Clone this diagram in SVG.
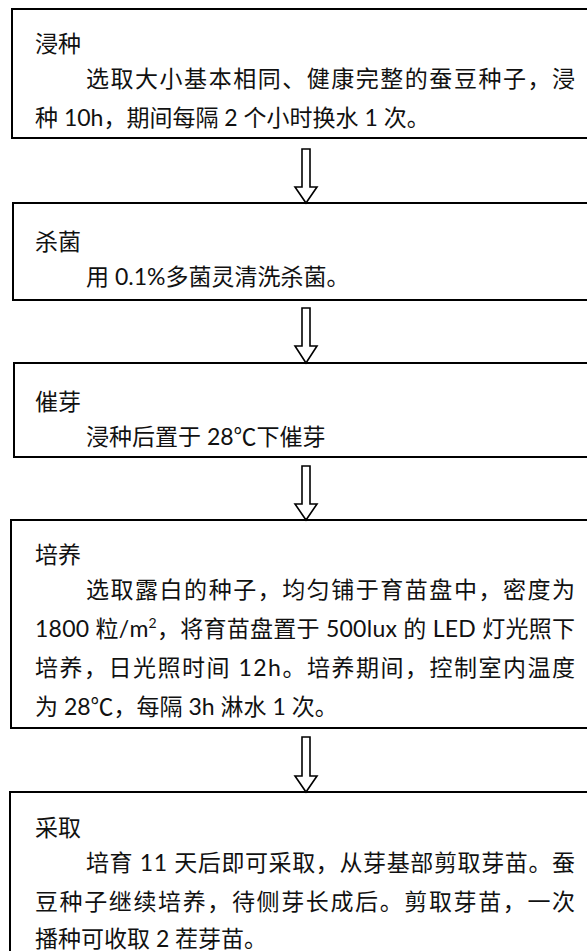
<svg xmlns="http://www.w3.org/2000/svg" width="587" height="951" viewBox="0 0 587 951">
<style>
.box{fill:#fff;stroke:#000;stroke-width:2}
.t{font-family:Lato,"Noto Sans CJK SC",sans-serif;font-size:23px;fill:#111}
.arr{fill:#fff;stroke:#000;stroke-width:1.6;stroke-linejoin:miter}
</style>
<rect width="587" height="951" fill="#fff"/>
<g id="node1">
<rect class="box" x="12" y="9" width="600" height="129"/>
<text class="t" x="35" y="52">浸种</text>
<text class="t" x="86" y="87" textLength="489" lengthAdjust="spacing">选取大小基本相同、健康完整的蚕豆种子，浸</text>
<text class="t" x="35" y="126">种 10h，期间每隔 2 个小时换水 1 次。</text>
</g>
<g id="node2">
<rect class="box" x="13" y="203" width="600" height="97"/>
<text class="t" x="35" y="250">杀菌</text>
<text class="t" x="86" y="285">用 0.1%多菌灵清洗杀菌。</text>
</g>
<g id="node3">
<rect class="box" x="14" y="363" width="600" height="94"/>
<text class="t" x="35" y="410">催芽</text>
<text class="t" x="86" y="445">浸种后置于 28℃下催芽</text>
</g>
<g id="node4">
<rect class="box" x="11" y="520" width="600" height="208"/>
<text class="t" x="35" y="563">培养</text>
<text class="t" x="86" y="598" textLength="489" lengthAdjust="spacing">选取露白的种子，均匀铺于育苗盘中，密度为</text>
<text class="t" x="35" y="637" textLength="540" lengthAdjust="spacing">1800 粒/m<tspan font-size="14" dy="-9">2</tspan><tspan dy="9">，将育苗盘置于 500lux 的 LED 灯光照下</tspan></text>
<text class="t" x="35" y="676" textLength="540" lengthAdjust="spacing">培养，日光照时间 12h。培养期间，控制室内温度</text>
<text class="t" x="35" y="715">为 28℃，每隔 3h 淋水 1 次。</text>
</g>
<g id="node5">
<rect class="box" x="10" y="792" width="600" height="200"/>
<text class="t" x="35" y="836">采取</text>
<text class="t" x="86" y="871" textLength="489" lengthAdjust="spacing">培育 11 天后即可采取，从芽基部剪取芽苗。蚕</text>
<text class="t" x="35" y="910" textLength="540" lengthAdjust="spacing">豆种子继续培养，待侧芽长成后。剪取芽苗，一次</text>
<text class="t" x="35" y="947">播种可收取 2 茬芽苗。</text>
</g>
<g id="connectors">
<polygon class="arr" points="302,149 310,149 310,187 317,187 306,203 295,187 302,187"/>
<polygon class="arr" points="302,308 310,308 310,346 317,346 306,363 295,346 302,346"/>
<polygon class="arr" points="302,466 310,466 310,504 317,504 306,520 295,504 302,504"/>
<polygon class="arr" points="302,737 310,737 310,776 317,776 306,792 295,776 302,776"/>
</g>
</svg>
